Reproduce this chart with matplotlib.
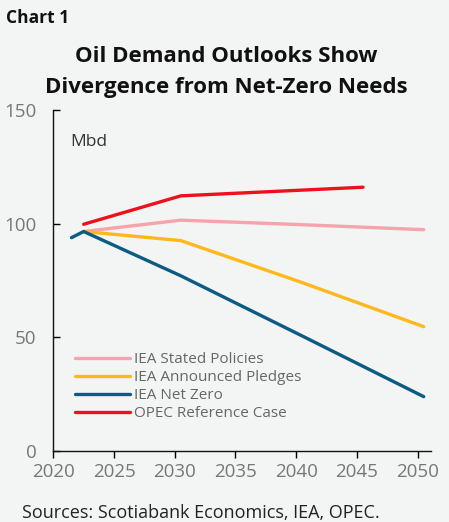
import matplotlib.pyplot as plt

# data years (points sit at mid-year on the axis)
years_iea = [2022, 2030, 2040, 2050]
stated_policies = [96.5, 101.5, 99.5, 97.3]
announced_pledges = [96.5, 92.5, 74.0, 54.6]
years_nz = [2021, 2022, 2030, 2040, 2050]
net_zero = [93.8, 96.5, 77.0, 50.5, 23.8]
years_opec = [2022, 2030, 2045]
opec_ref = [99.7, 112.2, 116.0]

xticks = [2020, 2025, 2030, 2035, 2040, 2045, 2050]
yticks = [0, 50, 100, 150]

bg = '#f3f4f4'
plt.rcParams['font.family'] = ['Open Sans', 'DejaVu Sans']

fig = plt.figure(figsize=(4.49, 5.22), dpi=100, facecolor=bg)
ax = fig.add_axes([53.3/449, 1-450.7/522, (431-53.3)/449, (450.7-110)/522])
ax.set_facecolor(bg)

mid = lambda ys: [y + 0.5 for y in ys]
ax.plot(mid(years_iea), stated_policies, color='#f7a3ab', lw=2.4, label='IEA Stated Policies', solid_capstyle='round')
ax.plot(mid(years_iea), announced_pledges, color='#ffb81c', lw=2.4, label='IEA Announced Pledges', solid_capstyle='round')
ax.plot(mid(years_nz), net_zero, color='#0b5b82', lw=2.4, label='IEA Net Zero', solid_capstyle='round')
ax.plot(mid(years_opec), opec_ref, color='#ec111a', lw=2.4, label='OPEC Reference Case', solid_capstyle='round')

ax.set_xlim(2020, 2051.1)
ax.set_ylim(0, 150)
ax.set_xticks(xticks)
ax.set_yticks(yticks)
for s in ['top', 'right']:
    ax.spines[s].set_visible(False)
for s in ['left', 'bottom']:
    ax.spines[s].set_linewidth(1.0)
    ax.spines[s].set_color('#111111')
ax.tick_params(axis='y', direction='in', length=5, width=1, labelsize=13.5, labelcolor='#777777', pad=12)
ax.tick_params(axis='x', direction='out', length=5, width=1, labelsize=13.5, labelcolor='#777777', pad=4)

ax.text(2021.4, 136, 'Mbd', fontsize=12.5, color='#333333', va='center')

leg = ax.legend(loc='lower left', bbox_to_anchor=(0.04, 0.068), frameon=False, fontsize=11,
                handlelength=3.6, handletextpad=0.3, labelspacing=0.2, borderaxespad=0)
for t in leg.get_texts():
    t.set_color('#666666')

fig.text(6/449, 1-18/522, 'Chart 1', fontsize=12.5, fontweight='bold', color='#111111', va='center')
fig.text(226/449, 1-56/522, 'Oil Demand Outlooks Show', fontsize=16, fontweight='bold',
         color='#111111', ha='center', va='center')
fig.text(226/449, 1-87/522, 'Divergence from Net-Zero Needs', fontsize=16, fontweight='bold',
         color='#111111', ha='center', va='center')
fig.text(22/449, 1-513/522, 'Sources: Scotiabank Economics, IEA, OPEC.', fontsize=13,
         color='#222222', va='center')

fig.savefig('out.png', dpi=100, facecolor=bg)
